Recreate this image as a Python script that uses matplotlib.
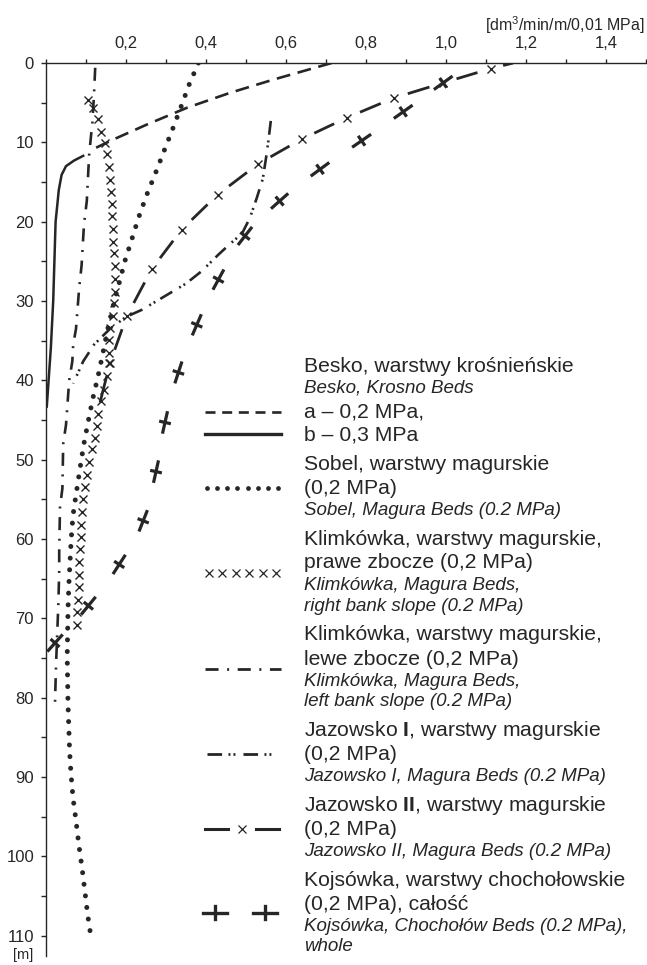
import numpy as np
import matplotlib
matplotlib.use("Agg")
import matplotlib.pyplot as plt

plt.rcParams['font.family'] = ['Liberation Sans', 'DejaVu Sans']
plt.rcParams['mathtext.fontset'] = 'custom'
plt.rcParams['mathtext.rm'] = 'Liberation Sans'
plt.rcParams['mathtext.it'] = 'Liberation Sans:italic'
plt.rcParams['mathtext.bf'] = 'Liberation Sans:bold'
plt.rcParams['lines.scale_dashes'] = False

INK = '#262626'

# ---- data (value [dm3/min/m/0,01 MPa], depth [m]) ----
besko_a_val = [0.714, 0.568, 0.46, 0.352, 0.252, 0.168, 0.12]
besko_a_depth = [0.0, 2.1, 3.76, 5.65, 7.76, 9.65, 10.8]

besko_b_val = [0.093, 0.07, 0.05, 0.039, 0.032, 0.024, 0.018, 0.012, 0.002]
besko_b_depth = [11.7, 12.3, 13.0, 14.1, 16.0, 20.0, 30.0, 36.0, 43.3]

sobel_val = [0.381, 0.358, 0.337, 0.316, 0.295, 0.274, 0.252, 0.232, 0.214,
             0.197, 0.182, 0.1675, 0.154, 0.1425, 0.13, 0.117, 0.105, 0.094,
             0.085, 0.076, 0.0675, 0.063, 0.06, 0.057, 0.055, 0.054, 0.053,
             0.054, 0.055, 0.057, 0.059, 0.0625, 0.0675, 0.075, 0.082, 0.09,
             0.097, 0.104, 0.1125]
sobel_depth = [0.0, 2.7, 5.6, 8.4, 11.1, 13.85, 16.6, 19.4, 22.3, 25.0, 27.9,
               30.7, 33.6, 36.5, 39.5, 42.3, 45.3, 48.2, 51.1, 54.1, 57.0,
               60.0, 62.9, 65.9, 68.9, 71.9, 74.8, 77.7, 80.8, 83.7, 86.7,
               89.6, 92.6, 95.5, 98.5, 101.4, 104.3, 107.3, 110.2]

klim_r_val = [0.106, 0.118, 0.129, 0.1375, 0.1475, 0.153, 0.1575, 0.16, 0.1625,
              0.164, 0.166, 0.1675, 0.168, 0.17, 0.172, 0.172, 0.172, 0.169,
              0.167, 0.16, 0.157, 0.158, 0.158, 0.152, 0.145, 0.1375, 0.131,
              0.127, 0.1225, 0.114, 0.108, 0.102, 0.0975, 0.093, 0.091, 0.0875,
              0.087, 0.085, 0.083, 0.083, 0.0825, 0.079, 0.078, 0.0775]
klim_r_depth = [4.7, 5.65, 7.1, 8.7, 10.1, 11.5, 13.1, 14.7, 16.3, 17.8, 19.3,
                20.9, 22.5, 24.0, 25.6, 27.2, 28.8, 30.2, 31.9, 33.4, 34.9,
                36.5, 37.8, 39.5, 41.2, 42.6, 44.2, 45.8, 47.3, 48.7, 50.3,
                51.9, 53.4, 55.0, 56.6, 58.2, 59.7, 61.3, 62.9, 64.5, 66.0,
                67.7, 69.2, 70.8]

klim_l_val = [0.123, 0.12, 0.116, 0.1125, 0.108, 0.106, 0.102, 0.095, 0.089,
              0.083, 0.075, 0.068, 0.0658, 0.058, 0.05, 0.043, 0.041, 0.035,
              0.033, 0.033, 0.031, 0.028, 0.025, 0.0225]
klim_l_depth = [0.6, 4.0, 7.5, 9.2, 11.5, 13.4, 17.4, 20.3, 25.5, 28.3, 33.5,
                35.5, 37.6, 40.0, 45.6, 48.0, 53.6, 56.0, 61.6, 64.0, 68.0,
                72.0, 76.0, 80.7]

jaz1_val = [0.562, 0.556, 0.55, 0.542, 0.527, 0.51, 0.49, 0.46, 0.43, 0.39,
            0.35, 0.31, 0.27, 0.24, 0.2, 0.16, 0.12, 0.093, 0.068]
jaz1_depth = [7.3, 9.8, 12.0, 14.6, 17.0, 19.5, 21.5, 22.8, 24.2, 26.2, 27.8,
              29.0, 30.2, 31.1, 32.0, 33.5, 35.5, 37.6, 40.4]

# first and last entries are line ends, the rest carry the small "x"
jaz2_val = [1.168, 1.112, 0.993, 0.87, 0.752, 0.639, 0.531, 0.429, 0.339,
            0.264, 0.202, 0.16, 0.135]
jaz2_depth = [0.0, 0.7, 2.5, 4.4, 6.9, 9.6, 12.7, 16.6, 21.0, 26.0, 31.9,
              37.8, 42.8]

kojs_val = [0.993, 0.893, 0.789, 0.685, 0.584, 0.4975, 0.431, 0.377, 0.331,
            0.2975, 0.275, 0.243, 0.183, 0.106, 0.0225]
kojs_depth = [2.5, 6.15, 9.8, 13.4, 17.4, 21.8, 27.3, 33.0, 39.0, 45.3, 51.5,
              57.7, 63.2, 68.4, 73.1]

x_ticks = np.round(np.arange(0, 1.51, 0.1), 1)
x_labels = ['', '', '0,2', '', '0,4', '', '0,6', '', '0,8', '', '1,0', '',
            '1,2', '', '1,4', '']
y_major = list(range(0, 111, 10))
y_minor = list(range(5, 111, 10))

legend_texts = [
    ('Besko, warstwy krośnieńskie', 'n'),
    ('Besko, Krosno Beds', 'i'),
    ('a – 0,2 MPa,', 'n'),
    ('b – 0,3 MPa', 'n'),
    ('Sobel, warstwy magurskie', 'n'),
    ('(0,2 MPa)', 'n'),
    ('Sobel, Magura Beds (0.2 MPa)', 'i'),
    ('Klimkówka, warstwy magurskie,', 'n'),
    ('prawe zbocze (0,2 MPa)', 'n'),
    ('Klimkówka, Magura Beds,', 'i'),
    ('right bank slope (0.2 MPa)', 'i'),
    ('Klimkówka, warstwy magurskie,', 'n'),
    ('lewe zbocze (0,2 MPa)', 'n'),
    ('Klimkówka, Magura Beds,', 'i'),
    ('left bank slope (0.2 MPa)', 'i'),
    (r'Jazowsko $\mathbf{I}$, warstwy magurskie', 'n'),
    ('(0,2 MPa)', 'n'),
    ('Jazowsko I, Magura Beds (0.2 MPa)', 'i'),
    (r'Jazowsko $\mathbf{II}$, warstwy magurskie', 'n'),
    ('(0,2 MPa)', 'n'),
    ('Jazowsko II, Magura Beds (0.2 MPa)', 'i'),
    ('Kojsówka, warstwy chochołowskie', 'n'),
    ('(0,2 MPa), całość', 'n'),
    ('Kojsówka, Chochołów Beds (0.2 MPa),', 'i'),
    ('whole', 'i'),
]
legend_y = [366, 388.3, 411.7, 435, 464, 488.3, 510.7, 539.3, 562.7, 586,
            606.7, 635, 659.3, 681.7, 701.7, 730.7, 754.3, 776.7, 805.7,
            829.3, 851.7, 880, 904, 926.7, 946.7]

W, H = 647, 965
fig = plt.figure(figsize=(W / 100, H / 100), dpi=100)

# main axes: value 0 at x=46 px, 1.5 at 646 px; depth 0 at y=63 px
top_px, bot_px = 63.0, 955.6
ax = fig.add_axes([46 / W, 1 - bot_px / H, 600 / W, (bot_px - top_px) / H])
ax.set_xlim(0, 1.5)
ax.set_ylim(112.5, 0)
for s in ['right', 'bottom']:
    ax.spines[s].set_visible(False)
for s in ['left', 'top']:
    ax.spines[s].set_linewidth(1.0)
    ax.spines[s].set_color(INK)
ax.xaxis.tick_top()
ax.set_xticks(x_ticks)
ax.set_xticklabels(x_labels)
ax.set_yticks(y_major)
ax.set_yticks(y_minor, minor=True)
ax.tick_params(axis='x', which='both', direction='out', length=3, width=1,
               pad=6, labelsize=12, colors=INK)
ax.tick_params(axis='y', which='both', direction='out', length=3.6, width=1,
               pad=5, labelsize=12, colors=INK)
ax.patch.set_alpha(0)

ax.plot(besko_a_val, besko_a_depth, color=INK, lw=1.9, ls=(0, (10, 5.5)))
ax.plot(besko_b_val, besko_b_depth, color=INK, lw=1.8)
ax.plot(sobel_val, sobel_depth, color=INK, lw=3.6, ls=(0, (0.01, 8.4)),
        dash_capstyle='round')
ax.plot(klim_r_val, klim_r_depth, ls='none', marker='x', ms=5.5, mew=1.0,
        color=INK)
ax.plot(klim_l_val, klim_l_depth, color=INK, lw=1.9,
        ls=(0, (9.4, 6.2, 1.4, 6.2)))
ax.plot(jaz1_val, jaz1_depth, color=INK, lw=1.9,
        ls=(0, (10, 4.2, 1.4, 2.2, 1.4, 5.8)))

# Jazowsko II: a dash between each pair of "x" marks
jv, jd = np.array(jaz2_val), np.array(jaz2_depth)
n = len(jv)
for i in range(n - 1):
    f0, f1 = 0.28, 0.72
    if i == 0:
        f0, f1 = 0.0, 0.45
    if i == n - 2:
        f0, f1 = 0.34, 1.0
    xs = [jv[i] + f0 * (jv[i + 1] - jv[i]), jv[i] + f1 * (jv[i + 1] - jv[i])]
    ys = [jd[i] + f0 * (jd[i + 1] - jd[i]), jd[i] + f1 * (jd[i + 1] - jd[i])]
    ax.plot(xs, ys, color=INK, lw=2.0, solid_capstyle='butt')
ax.plot(jv[1:-1], jd[1:-1], ls='none', marker='x', ms=6, mew=1.0, color=INK)

# Kojsowka: crosses oriented along the curve
pts = ax.transData.transform(np.column_stack([kojs_val, kojs_depth]))
inv = ax.transData.inverted()
for i in range(len(pts)):
    a = pts[max(i - 1, 0)]
    b = pts[min(i + 1, len(pts) - 1)]
    d = (b - a) / np.hypot(*(b - a))
    nrm = np.array([-d[1], d[0]])
    c = pts[i]
    for vec, half in [(d, 11.5), (nrm, 6.0)]:
        seg = inv.transform(np.array([c - vec * half, c + vec * half]))
        ax.plot(seg[:, 0], seg[:, 1], color=INK, lw=2.3, solid_capstyle='butt')

# overlay axes in pixel coordinates for labels and legend
ov = fig.add_axes([0, 0, 1, 1])
ov.set_xlim(0, W)
ov.set_ylim(H, 0)
ov.axis('off')
ov.patch.set_alpha(0)

ov.text(645, 25, r'[dm$^{3}$/min/m/0,01 MPa]', ha='right', va='center',
        fontsize=11.5, color=INK)
ov.text(33, 955, '[m]', ha='right', va='center', fontsize=10.5, color=INK)

for (txt, kind), y in zip(legend_texts, legend_y):
    if kind == 'n':
        ov.text(304, y, txt, ha='left', va='center', fontsize=15.2, color=INK)
    else:
        ov.text(304, y, txt, ha='left', va='center', fontsize=13.5,
                style='italic', color=INK)

# legend samples
ov.plot([205, 281], [411.7, 411.7], color=INK, lw=1.9, ls=(0, (7.2, 4.8)))
ov.plot([205, 281], [434.3, 434.3], color=INK, lw=2.4)
ov.plot(np.linspace(207, 278, 8), [487.7] * 8, ls='none', marker='o', ms=3.4,
        color=INK, mew=0)
ov.plot(np.linspace(209, 276, 6), [573.3] * 6, ls='none', marker='x', ms=6,
        mew=0.9, color=INK)
ov.plot([205, 281], [669.3, 669.3], color=INK, lw=2.0,
        ls=(0, (9.4, 6.2, 1.4, 6.2)))
ov.plot([207, 275], [754.3, 754.3], color=INK, lw=2.0,
        ls=(0, (10.5, 4.6, 1.4, 2.2, 1.4, 5.8)))
ov.plot([205, 228], [829.3, 829.3], color=INK, lw=2.2)
ov.plot([256, 279], [829.3, 829.3], color=INK, lw=2.2)
ov.plot([242], [829.3], ls='none', marker='x', ms=5.5, mew=0.9, color=INK)
for cx in [215.3, 265.3]:
    ov.plot([cx - 12, cx + 12], [912.7, 912.7], color=INK, lw=2.4)
    ov.plot([cx, cx], [906.2, 919.2], color=INK, lw=2.4)

fig.savefig('out.png', dpi=100, facecolor='white')
